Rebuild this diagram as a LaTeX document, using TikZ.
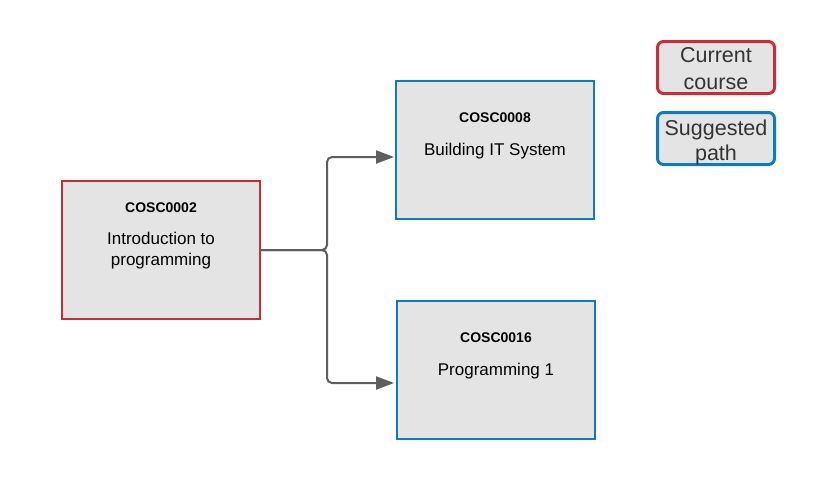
\documentclass[tikz,border=0pt]{standalone}
\usepackage{fontspec}
\setmainfont{Liberation Sans}
\usetikzlibrary{arrows.meta,positioning,calc}
\definecolor{cred}{HTML}{C92D39}
\definecolor{cblue}{HTML}{0C7CBA}
\definecolor{cfill}{HTML}{E4E4E4}
\definecolor{cline}{HTML}{5E5E5E}
\definecolor{ctext}{HTML}{333333}
\tikzset{
  course/.style={draw=#1, fill=cfill, line width=2pt, minimum width=198pt, minimum height=138pt, inner sep=0pt},
  legendbox/.style={draw=#1, fill=cfill, line width=3pt, rounded corners=6pt, minimum width=117pt, minimum height=52pt, inner sep=0pt},
  code/.style={anchor=base, font=\fontsize{14}{16}\selectfont\bfseries, inner sep=0pt},
  title/.style={anchor=base, font=\fontsize{17}{21}\selectfont, inner sep=0pt},
  legtext/.style={anchor=base, font=\fontsize{21.5}{26}\selectfont, text=ctext, inner sep=0pt},
  conn/.style={draw=cline, line width=2pt, rounded corners=5pt, -{Triangle[length=18pt,width=13pt]}}
}
\begin{document}
\begin{tikzpicture}[x=1pt,y=-1pt]
\useasboundingbox (0,0) rectangle (816,480);
% boxes
\node[course=cred] (cur) at (161,250) {};
\node[course=cblue] (top) at (495,150) {};
\node[course=cblue] (bot) at (496,370) {};
% texts
\node[code] (curcode) at (161,212.3) {COSC0002};
\node[title] (curt1) at (161,244.3) {Introduction to};
\node[title] (curt2) at (161,265.5) {programming};
\node[code] (topcode) at (495,122.3) {COSC0008};
\node[title] (topt) at (495,155) {Building IT System};
\node[code] (botcode) at (496,342.3) {COSC0016};
\node[title] (bott) at (496,375) {Programming 1};
% legend
\node[legendbox=cred] (legcur) at (716,67.5) {};
\node[legtext] (legcur1) at (716,62.3) {Current};
\node[legtext] (legcur2) at (716,89) {course};
\node[legendbox=cblue] (legsug) at (716,138.5) {};
\node[legtext] (legsug1) at (716,135) {Suggested};
\node[legtext] (legsug2) at (716,160) {path};
% connectors
\coordinate (split) at (327,250);
\coordinate (topin) at (394,157);
\coordinate (botin) at (394,383);
\draw[conn] (cur.east) -- (split) |- (topin);
\draw[conn] (cur.east) -- (split) |- (botin);
\end{tikzpicture}
\end{document}
